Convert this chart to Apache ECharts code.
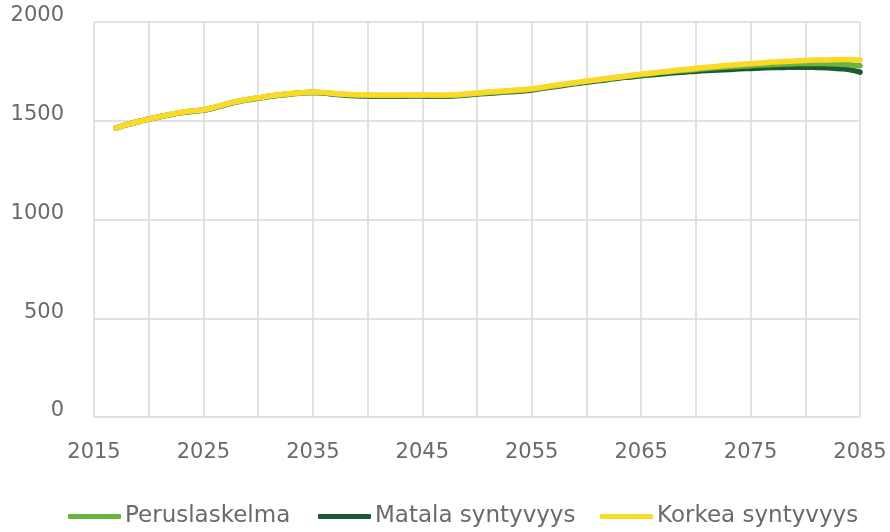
<!DOCTYPE html>
<html><head><meta charset="utf-8">
<script src="https://cdn.jsdelivr.net/npm/echarts@6/dist/echarts.min.js"></script>
<style>html,body{margin:0;padding:0;background:#fff}#c{width:890px;height:532px}</style>
</head><body><div id="c"></div>
<script>
const years = [];
for (let y = 2017; y <= 2085; y++) years.push(y);

const perus = [1463,1480,1495,1508,1520,1532,1542,1549,1555,1567,1582,1596,1607,1615,1624,1631,1637,1641,1644,1642,1636,1632,1629,1628,1627,1627,1627,1628,1628,1627,1627,1629,1633,1638,1642,1646,1650,1654,1659,1667,1675,1683,1691,1699,1706,1713,1720,1727,1733,1739,1745,1750,1755,1760,1765,1769,1773,1776,1779,1782,1785,1787,1789,1790,1790,1789,1787,1783,1778];
const matala = [1463,1480,1495,1508,1520,1531,1541,1548,1554,1566,1581,1595,1606,1614,1623,1630,1636,1640,1643,1640,1634,1629,1626,1625,1624,1624,1624,1625,1625,1624,1624,1626,1630,1635,1639,1643,1647,1651,1656,1664,1672,1680,1688,1695,1702,1709,1716,1722,1728,1733,1738,1743,1747,1751,1754,1757,1760,1763,1765,1767,1769,1770,1771,1771,1770,1768,1764,1759,1746];
const korkea = [1463,1480,1495,1508,1520,1533,1543,1550,1556,1568,1583,1597,1608,1616,1625,1632,1638,1642,1645,1643,1638,1634,1632,1631,1630,1630,1630,1631,1631,1630,1630,1632,1636,1641,1645,1649,1653,1657,1662,1670,1678,1686,1694,1701,1708,1715,1722,1729,1736,1742,1748,1754,1760,1765,1771,1776,1781,1785,1789,1793,1797,1800,1803,1805,1807,1808,1809,1810,1808];
const seriesNames = ['Peruslaskelma','Matala syntyvyys','Korkea syntyvyys'];
const yTicks = [0,500,1000,1500,2000];

const font = 'DejaVu Sans';
const txt = '#6a6a6a';
const gridColor = '#d9d9d9';
const colors = ['#6cb33f','#1d5a34','#fbd927'];
const legendLeft = [68, 318, 600];

function pairs(arr){ return arr.map((v,i)=>[years[i], v]); }

const chart = echarts.init(document.getElementById('c'), null, {renderer:'canvas'});
chart.setOption({
  animation:false,
  color: colors,
  grid:{left:94,right:30,top:22,bottom:115,containLabel:false},
  xAxis:{
    type:'value', min:2015, max:2085, interval:5,
    axisLine:{show:false}, axisTick:{show:false},
    splitLine:{show:true,lineStyle:{color:gridColor,width:1.5}},
    axisLabel:{color:txt,fontFamily:font,fontSize:21,margin:25,
      formatter:v=>((v-2015)%10===0?String(v):'')}
  },
  yAxis:{
    type:'value', min:0, max:2000, interval:500,
    axisLine:{show:false}, axisTick:{show:false},
    splitLine:{show:true,lineStyle:{color:gridColor,width:1.5}},
    axisLabel:{color:txt,fontFamily:font,fontSize:21,margin:30,
      formatter:v=>yTicks.includes(v)?'{a|'+v+'}':'',
      rich:{a:{color:txt,fontFamily:font,fontSize:21,padding:[0,0,12,0]}}}
  },
  legend: seriesNames.map((n,i)=>({
    top:505, left:legendLeft[i], icon:'roundRect', itemWidth:53, itemHeight:5, padding:0,
    textStyle:{color:txt,fontFamily:font,fontSize:23,padding:[0,0,0,-1]},
    data:[n]
  })),
  series:[
    {name:seriesNames[0],type:'line',data:pairs(perus),smooth:true,showSymbol:false,lineStyle:{width:5.5,color:colors[0],cap:'round'},z:2},
    {name:seriesNames[1],type:'line',data:pairs(matala),smooth:true,showSymbol:false,lineStyle:{width:5.5,color:colors[1],cap:'round'},z:1},
    {name:seriesNames[2],type:'line',data:pairs(korkea),smooth:true,showSymbol:false,lineStyle:{width:5.5,color:colors[2],cap:'round'},z:3}
  ]
});
</script></body></html>
